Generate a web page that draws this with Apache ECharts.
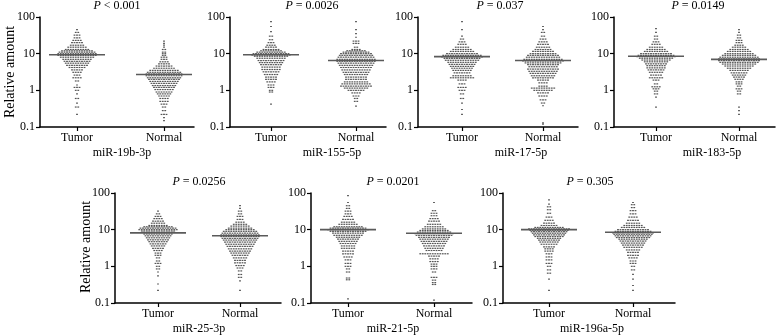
<!DOCTYPE html>
<html>
<head>
<meta charset="utf-8">
<script src="https://cdn.jsdelivr.net/npm/echarts@6/dist/echarts.min.js"></script>
<style>
  html, body { margin: 0; background: #fff; }
  #chart { width: 778px; height: 335px; }
</style>
</head>
<body>
<div id="chart"></div>
<script>
// rows of the dot plots: [relative amount, number of dots in that row]
var t19b = [[45,1],[38,2],[32,3],[27,3],[23,4],[20,5],[17,6],[15,8],[13,10],[12,13],[11,15],[10,16],[9,16],[8,14],[7,12],[6.2,11],[5.5,10],[4.8,9],[4.2,7],[3.6,5],[3.1,4],[2.6,3],[2.2,4],[1.8,2],[1.4,1],[1.2,3],[1,2],[0.8,1],[0.6,2],[0.45,1],[0.35,2],[0.22,1]];
var n19b = [[22,1],[19,1],[17,1],[15,1],[13,2],[11,2],[10,2],[9,2],[8,3],[7,3],[6,4],[5.3,5],[4.6,7],[4,9],[3.5,12],[3.1,14],[2.8,15],[2.5,15],[2.2,14],[2,13],[1.75,12],[1.55,11],[1.35,10],[1.2,9],[1.05,8],[0.9,7],[0.8,6],[0.7,5],[0.6,4],[0.5,4],[0.42,3],[0.35,2],[0.28,2],[0.22,3],[0.18,1],[0.15,1]];
var t155 = [[75,1],[55,1],[40,1],[30,2],[24,2],[20,3],[17,4],[15,5],[13,7],[12,9],[11,12],[10,15],[9.2,16],[8.5,14],[7.5,12],[6.5,11],[5.7,10],[5,9],[4.3,8],[3.7,8],[3.2,7],[2.7,6],[2.3,5],[2,5],[1.7,4],[1.4,3],[1.2,3],[1,2],[0.9,2],[0.42,1]];
var n155 = [[75,1],[45,1],[35,1],[28,1],[22,3],[19,3],[15,2],[13,4],[12,8],[11,11],[10,13],[9,14],[8,15],[7,16],[6.2,16],[5.5,15],[4.8,14],[4.2,13],[3.6,12],[3.1,11],[2.7,10],[2.3,9],[2,9],[1.7,10],[1.5,12],[1.3,13],[1.15,10],[1,7],[0.85,4],[0.7,3],[0.6,2],[0.5,2],[0.37,1]];
var t17 = [[75,1],[45,1],[30,1],[25,2],[21,3],[18,4],[15,6],[13,8],[11.5,10],[10,13],[9,16],[8.2,17],[7.4,15],[6.6,14],[5.8,12],[5.1,11],[4.5,10],[4,9],[3.5,8],[3,7],[2.5,8],[2.2,10],[1.9,4],[1.5,3],[1.2,4],[1,3],[0.8,2],[0.6,2],[0.45,1],[0.3,1],[0.22,1]];
var n17 = [[55,1],[45,1],[38,2],[30,2],[25,3],[21,4],[18,5],[15,6],[13,7],[11.5,9],[10,11],[9,13],[8,14],[7,16],[6.3,17],[5.6,15],[5,13],[4.4,12],[3.8,13],[3.3,12],[2.9,11],[2.5,10],[2.2,9],[1.9,5],[1.6,4],[1.3,4],[1.15,10],[1,8],[0.85,5],[0.7,4],[0.55,3],[0.45,2],[0.38,1],[0.13,1],[0.12,1]];
var t183 = [[48,1],[38,1],[30,2],[25,2],[21,3],[18,4],[15,6],[13,8],[11.5,10],[10,13],[9,15],[8.3,16],[7.5,14],[6.7,12],[6,10],[5.3,9],[4.7,8],[4.1,8],[3.6,7],[3.1,6],[2.6,5],[2.2,6],[1.9,3],[1.5,2],[1.25,4],[1.1,3],[0.95,2],[0.8,2],[0.65,1],[0.35,1]];
var n183 = [[45,1],[38,1],[32,2],[27,2],[23,3],[20,3],[17,4],[15,6],[13,8],[11.5,10],[10,12],[9,14],[8,16],[7.2,17],[6.5,17],[5.8,16],[5.2,14],[4.6,12],[4,10],[3.5,8],[3,7],[2.6,6],[2.3,5],[2,4],[1.7,3],[1.5,3],[1.3,2],[1.1,3],[0.95,2],[0.8,2],[0.35,1],[0.28,1],[0.22,1]];
var t25 = [[32,1],[27,2],[23,3],[20,4],[17,5],[15,6],[13,8],[12,12],[11,15],[10,16],[9.2,14],[8.4,13],[7.6,12],[6.8,11],[6,10],[5.3,9],[4.7,8],[4.1,7],[3.6,6],[3.1,5],[2.7,4],[2.3,3],[2,3],[1.7,2],[1.4,2],[1.2,3],[1,2],[0.85,2],[0.7,1],[0.55,1],[0.33,1],[0.22,1]];
var n25 = [[45,1],[38,1],[32,2],[27,2],[23,3],[19,3],[16,4],[14,6],[12.5,8],[11,10],[10,12],[9,14],[8,15],[7.2,16],[6.5,16],[5.8,15],[5.2,14],[4.6,13],[4,12],[3.5,11],[3,10],[2.6,9],[2.3,8],[2,7],[1.7,6],[1.45,5],[1.25,5],[1.05,4],[0.9,3],[0.75,2],[0.6,2],[0.5,2],[0.4,1],[0.22,1]];
var t21 = [[85,1],[55,1],[45,2],[38,2],[32,3],[27,3],[23,4],[19,5],[16,6],[14,8],[12,12],[11,15],[10,17],[9,15],[8,13],[7,12],[6.2,10],[5.5,9],[4.8,8],[4.2,7],[3.6,6],[3.1,6],[2.6,5],[2.2,5],[1.8,4],[1.5,3],[1.2,3],[1,3],[0.85,2],[0.7,2],[0.48,2],[0.43,2],[0.13,1]];
var n21 = [[55,1],[33,2],[28,3],[24,3],[20,4],[17,5],[14,6],[12,8],[10.5,10],[9.5,12],[8.6,14],[7.8,16],[7,15],[6.2,13],[5.5,12],[4.8,11],[4.2,10],[3.6,9],[3.1,8],[2.7,7],[2.2,12],[1.9,5],[1.6,4],[1.35,4],[1.15,3],[1,3],[0.85,3],[0.7,2],[0.5,3],[0.42,2],[0.36,2],[0.32,2],[0.12,1]];
var t196 = [[65,1],[50,1],[42,2],[35,2],[28,2],[22,3],[18,4],[15,5],[13,7],[11.5,12],[10.5,17],[9.6,16],[8.8,15],[8,14],[7.2,13],[6.5,12],[5.8,10],[5.2,9],[4.6,8],[4,7],[3.4,5],[3,4],[2.6,4],[2.2,3],[1.8,3],[1.5,3],[1.2,3],[1,2],[0.8,2],[0.65,2],[0.45,1],[0.22,1]];
var n196 = [[55,1],[48,2],[40,2],[33,3],[27,3],[22,4],[18,5],[15,6],[13,8],[11.5,10],[10,13],[9,15],[8.2,17],[7.5,16],[6.8,15],[6.1,14],[5.5,12],[4.9,11],[4.3,10],[3.8,9],[3.3,8],[2.8,6],[2.4,5],[2,5],[1.7,4],[1.4,3],[1.2,3],[1,2],[0.8,2],[0.6,1],[0.45,1],[0.3,1],[0.22,1]];

var mirNames = ['miR-19b-3p', 'miR-155-5p', 'miR-17-5p', 'miR-183-5p', 'miR-25-3p', 'miR-21-5p', 'miR-196a-5p'];
var pTexts = ['< 0.001', '= 0.0026', '= 0.037', '= 0.0149', '= 0.0256', '= 0.0201', '= 0.305'];
var tumorRows = [t19b, t155, t17, t183, t25, t21, t196];
var normalRows = [n19b, n155, n17, n183, n25, n21, n196];
var tumorMedians = [9.3, 9.3, 8.3, 8.5, 8.2, 10, 10];
var normalMedians = [2.7, 6.5, 6.5, 7.0, 6.8, 8.0, 8.5];
var groups = ['Tumor', 'Normal'];

// pixel layout of each panel: y axis x, Tumor x, Normal x, axis end x, top, P label x, name label x
var layout = [
  {ax: 40,  t: 77,  n: 164, end: 194, top: 17,  px: 117, nx: 122},
  {ax: 230, t: 271, n: 356, end: 386, top: 17,  px: 312, nx: 332},
  {ax: 418, t: 462, n: 543, end: 578, top: 17,  px: 500, nx: 521},
  {ax: 614, t: 656, n: 739, end: 775, top: 17,  px: 698, nx: 712},
  {ax: 115, t: 158, n: 240, end: 281, top: 193, px: 199, nx: 199},
  {ax: 311, t: 348, n: 434, end: 472, top: 193, px: 393, nx: 393},
  {ax: 503, t: 549, n: 633, end: 675, top: 193, px: 590, nx: 592}
];
var plotH = 110;
var font = 'Liberation Serif';

// spread each row of dots sideways around its group centre
function swarm(rows, centre, step) {
  var pts = [];
  rows.forEach(function (r) {
    for (var k = 0; k < r[1]; k++) {
      pts.push([centre + (k - (r[1] - 1) / 2) * step, r[0]]);
    }
  });
  return pts;
}

var grids = [], xAxes = [], yAxes = [], series = [], graphics = [];
layout.forEach(function (p, i) {
  var unit = p.n - p.t;
  var step = 2.5 / unit;
  var half = 28 / unit;
  grids.push({left: p.ax, top: p.top, width: p.end - p.ax, height: plotH});
  xAxes.push({
    gridIndex: i, type: 'value',
    min: 1 - (p.t - p.ax) / unit, max: 2 + (p.end - p.n) / unit,
    axisLine: {lineStyle: {color: '#000', width: 1.5}},
    axisTick: {show: true, length: 4, customValues: [1, 2], lineStyle: {color: '#000', width: 1.2}},
    axisLabel: {
      customValues: [1, 2], margin: 5, color: '#000', fontFamily: font, fontSize: 12,
      formatter: function (v) { return groups[Math.round(v) - 1]; }
    },
    splitLine: {show: false}
  });
  yAxes.push({
    gridIndex: i, type: 'log', logBase: 10, min: 0.1, max: 100,
    axisLine: {show: true, lineStyle: {color: '#000', width: 1.5}},
    axisTick: {show: true, length: 4, lineStyle: {color: '#000', width: 1.2}},
    minorTick: {show: false},
    axisLabel: {margin: 5, color: '#000', fontFamily: font, fontSize: 12},
    splitLine: {show: false}
  });
  [tumorRows[i], normalRows[i]].forEach(function (rows, g) {
    series.push({
      type: 'scatter', xAxisIndex: i, yAxisIndex: i,
      data: swarm(rows, g + 1, step),
      symbol: 'rect', symbolSize: [1.8, 1.2],
      itemStyle: {color: '#2a2a2a'}, silent: true
    });
  });
  [tumorMedians[i], normalMedians[i]].forEach(function (m, g) {
    series.push({
      type: 'line', xAxisIndex: i, yAxisIndex: i,
      data: [[g + 1 - half, m], [g + 1 + half, m]],
      symbol: 'none', silent: true, z: 3,
      lineStyle: {color: '#5a5a5a', width: 1.6}
    });
  });
  graphics.push({
    type: 'text', x: p.px, y: p.top - 11,
    style: {
      text: '{i|P} ' + pTexts[i], fontFamily: font, fontSize: 12, fill: '#000',
      align: 'center', verticalAlign: 'middle',
      rich: {i: {fontStyle: 'italic', fontFamily: font, fontSize: 12, fill: '#000'}}
    }
  });
  graphics.push({
    type: 'text', x: p.nx, y: p.top + plotH + 26,
    style: {text: mirNames[i], fontFamily: font, fontSize: 12, fill: '#000', align: 'center', verticalAlign: 'middle'}
  });
});

// y axis titles on the first panel of each row
[[10, 72], [86, 247]].forEach(function (c) {
  graphics.push({
    type: 'text', x: c[0], y: c[1], rotation: Math.PI / 2,
    style: {text: 'Relative amount', fontFamily: font, fontSize: 14, fill: '#000', align: 'center', verticalAlign: 'middle'}
  });
});

var chart = echarts.init(document.getElementById('chart'));
chart.setOption({
  animation: false,
  backgroundColor: '#fff',
  grid: grids,
  xAxis: xAxes,
  yAxis: yAxes,
  series: series,
  graphic: graphics
});
</script>
</body>
</html>
